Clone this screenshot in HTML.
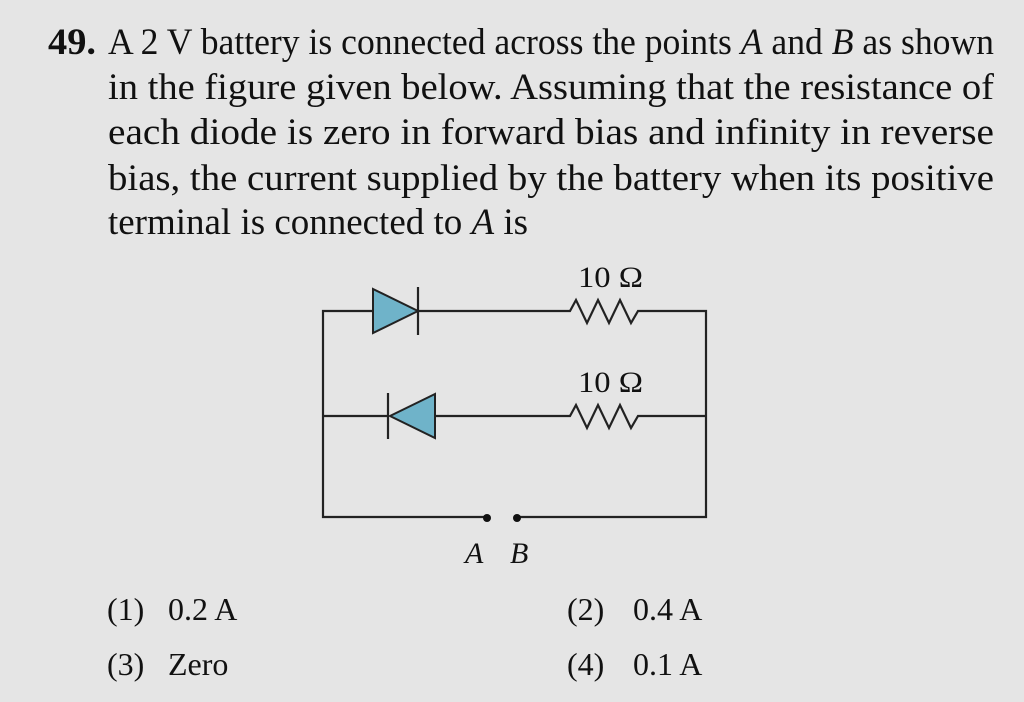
<!DOCTYPE html>
<html><head><meta charset="utf-8"><style>
html,body{margin:0;padding:0;background:#e5e5e5;}
svg{display:block}
text{font-family:"Liberation Serif",serif;fill:#111;}
</style></head><body>
<svg width="1024" height="702" viewBox="0 0 1024 702">
<rect width="1024" height="702" fill="#e5e5e5"/>
<g font-size="37">
<text x="48" y="54" font-weight="bold" textLength="48" lengthAdjust="spacingAndGlyphs">49.</text>
<text x="108" y="54" textLength="886" lengthAdjust="spacingAndGlyphs">A 2 V battery is connected across the points <tspan font-style="italic">A</tspan> and <tspan font-style="italic">B</tspan> as shown</text>
<text x="108" y="99" textLength="886" lengthAdjust="spacingAndGlyphs">in the figure given below. Assuming that the resistance of</text>
<text x="108" y="144" textLength="886" lengthAdjust="spacingAndGlyphs">each diode is zero in forward bias and infinity in reverse</text>
<text x="108" y="190" textLength="886" lengthAdjust="spacingAndGlyphs">bias, the current supplied by the battery when its positive</text>
<text x="108" y="234" textLength="420" lengthAdjust="spacingAndGlyphs">terminal is connected to <tspan font-style="italic">A</tspan> is</text>
</g>
<g stroke="#222" stroke-width="2.2" fill="none">
<polyline points="418,311 570,311 576,300 587,323 598,300 609,323 620,300 631,323 638,311 706,311 706,517 517,517"/>
<polyline points="487,517 323,517 323,311 373,311"/>
<polyline points="323,416 388,416"/>
<polyline points="435,416 570,416 576,405 587,428 598,405 609,428 620,405 631,428 638,416 706,416"/>
<line x1="418" y1="287" x2="418" y2="335"/>
<line x1="388" y1="393" x2="388" y2="439"/>
</g>
<polygon points="373,289 418,311 373,333" fill="#6fb3c9" stroke="#222" stroke-width="2"/>
<polygon points="435,394 390,416 435,438" fill="#6fb3c9" stroke="#222" stroke-width="2"/>
<circle cx="487" cy="518" r="4" fill="#111"/>
<circle cx="517" cy="518" r="4" fill="#111"/>
<g font-size="30">
<text x="578" y="287" textLength="65" lengthAdjust="spacingAndGlyphs">10 Ω</text>
<text x="578" y="392" textLength="65" lengthAdjust="spacingAndGlyphs">10 Ω</text>
<text x="465" y="563" font-style="italic">A</text>
<text x="510" y="563" font-style="italic">B</text>
</g>
<g font-size="32">
<text x="107" y="620">(1)</text><text x="168" y="620">0.2 A</text>
<text x="567" y="620">(2)</text><text x="633" y="620">0.4 A</text>
<text x="107" y="675">(3)</text><text x="168" y="675">Zero</text>
<text x="567" y="675">(4)</text><text x="633" y="675">0.1 A</text>
</g>
</svg>
</body></html>
